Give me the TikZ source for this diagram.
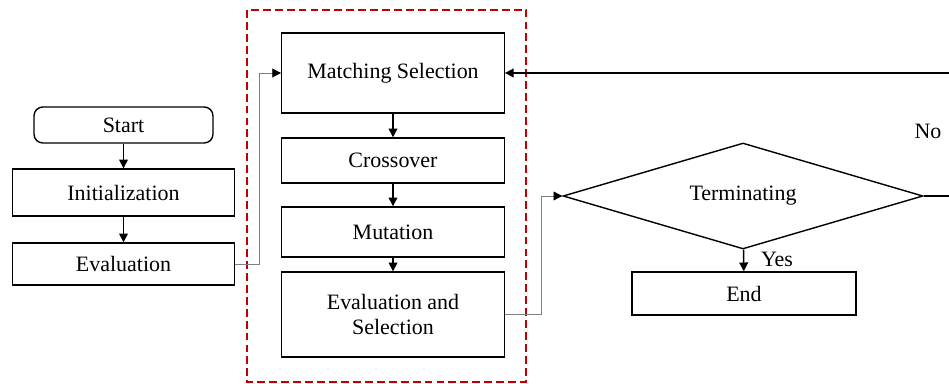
\documentclass[tikz,border=0pt]{standalone}
\usepackage{fontspec}
\setmainfont{Liberation Serif}
\usetikzlibrary{shapes.geometric,arrows.meta}
\definecolor{boxred}{RGB}{192,0,0}
\begin{document}
\begin{tikzpicture}[x=0.02cm,y=-0.02cm,
		font=\fontsize{12.5}{14}\selectfont,
		blk/.style={draw,line width=0.8pt,minimum width=4.45cm,inner sep=1pt,align=center},
		arr/.style={-{Triangle[length=5pt,width=5pt]},line width=0.8pt},
		gline/.style={-{Triangle[length=5pt,width=5pt,color=black]},draw=gray,line width=0.5pt}]
		\clip (0,0) rectangle (949,384);

		\draw[boxred,dashed,dash pattern=on 4.5pt off 2.3pt,line width=0.8pt] (247,10) rectangle (526,382);

		\node[blk,rounded corners=5pt,minimum width=3.58cm,minimum height=0.72cm] (start) at (123.5,125) {Start};
		\node[blk,minimum height=0.94cm] (init) at (123.5,192.5) {Initialization};
		\node[blk,minimum height=0.84cm] (eval) at (123.5,264) {Evaluation};

		\node[blk,minimum height=1.6cm] (match) at (393,73) {Matching Selection};
		\node[blk,minimum height=0.9cm] (cross) at (393,160.5) {Crossover};
		\node[blk,minimum height=1.0cm] (mut) at (393,232) {Mutation};
		\node[blk,minimum height=1.7cm] (evsel) at (393,314.5) {Evaluation and\\Selection};

		\node[draw,diamond,line width=0.8pt,aspect=3.4,inner sep=0pt,minimum width=7.2cm,minimum height=2.12cm] (term) at (743,196) {Terminating};
		\node[blk,minimum width=4.48cm,minimum height=0.86cm] (end) at (744,293.5) {End};

		\draw[arr] (start) -- (init);
		\draw[arr] (init) -- (eval);
		\draw[arr] (match) -- (cross);
		\draw[arr] (cross) -- (mut);
		\draw[arr] (mut) -- (evsel);
		\draw[arr] (term) -- (end);

		\draw[gline] (eval.east) -- ++(24,0) |- (match.west);
		\draw[gline] (evsel.east) -- ++(36,0) |- (term.west);
		\draw[arr,line width=1pt] (term.east) -- ++(40,0) |- (match.east);

		\node (yes) at (777,259) {Yes};
		\node (no) at (928,131) {No};
\end{tikzpicture}
\end{document}
